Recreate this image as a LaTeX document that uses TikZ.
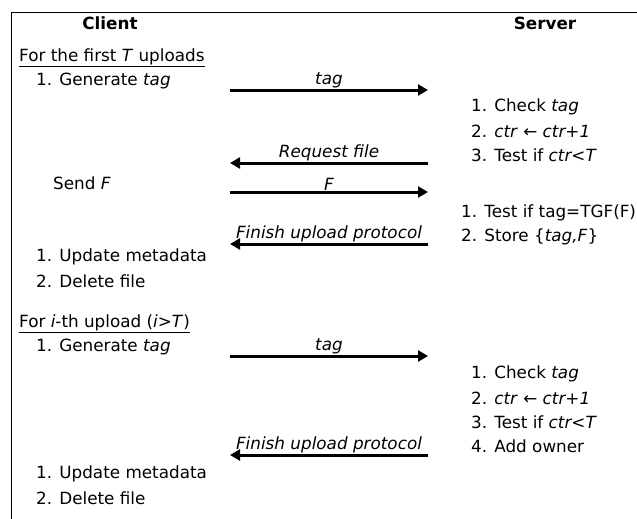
\documentclass[tikz,border=0pt]{standalone}
\usepackage{fontspec}
\setmainfont{DejaVu Sans}
\usetikzlibrary{arrows.meta}

\tikzset{
  txt/.style={anchor=west, inner sep=0pt},
  msg/.style={line width=3pt, -{Triangle[length=10pt,width=11pt]}},
  lbl/.style={midway, above, inner sep=0.5pt, font=\fontsize{16.8}{20}\selectfont\itshape}
}

\begin{document}
\begin{tikzpicture}[x=1pt, y=-1pt, font=\fontsize{16.8}{20}\selectfont]
    \useasboundingbox (0,0) rectangle (637,519);

    % Frame
    \draw[line width=0.8pt] (11,519) -- (11,12) -- (637,12);

    % Headings
    \node[font=\fontsize{16.8}{20}\selectfont\bfseries] (client) at (110,23) {Client};
    \node[font=\fontsize{16.8}{20}\selectfont\bfseries] (server) at (545,23) {Server};

    % First T uploads: client side
    \node[txt] (first) at (19,58) {\underline{For the first \textit{T} uploads}};
    \node[txt] (gen1) at (36,81) {1. Generate \textit{tag}};
    \node[txt] (send) at (53,183) {Send \textit{F}};
    \node[txt] (upd1) at (36,257) {1. Update metadata};
    \node[txt] (del1) at (36,281) {2. Delete file};

    % First T uploads: server side
    \foreach \y/\t [count=\i] in {107/Check \textit{tag}, 131/\textit{ctr} ← \textit{ctr+1}, 155/Test if \textit{ctr<T}} {
      \node[txt] (chkA\i) at (471,\y) {\i. \t};
    }
    \node[txt] (test) at (461,213) {1. Test if tag=TGF(F)};
    \node[txt] (store) at (461,237) {2. Store \{\textit{tag,F}\}};

    % Messages of the first T uploads
    \coordinate (cA1) at (230,90);  \coordinate (sA1) at (428,90);
    \coordinate (cA2) at (230,163); \coordinate (sA2) at (428,163);
    \coordinate (cA3) at (230,192); \coordinate (sA3) at (428,192);
    \coordinate (cA4) at (230,244); \coordinate (sA4) at (428,244);
    \draw[msg] (cA1) -- (sA1) node[lbl] {tag};
    \draw[msg] (sA2) -- (cA2) node[lbl] {Request file};
    \draw[msg] (cA3) -- (sA3) node[lbl] {F};
    \draw[msg] (sA4) -- (cA4) node[lbl] {Finish upload protocol};

    % i-th upload: client side
    \node[txt] (ith) at (19,324) {\underline{For \textit{i}-th upload (\textit{i>T})}};
    \node[txt] (gen2) at (36,347) {1. Generate \textit{tag}};
    \node[txt] (upd2) at (36,474) {1. Update metadata};
    \node[txt] (del2) at (36,498) {2. Delete file};

    % i-th upload: server side
    \foreach \y/\t [count=\i] in {374/Check \textit{tag}, 398/\textit{ctr} ← \textit{ctr+1}, 422/Test if \textit{ctr<T}, 446/Add owner} {
      \node[txt] (chkB\i) at (471,\y) {\i. \t};
    }

    % Messages of the i-th upload
    \coordinate (cB1) at (230,356); \coordinate (sB1) at (428,356);
    \coordinate (cB2) at (230,455); \coordinate (sB2) at (428,455);
    \draw[msg] (cB1) -- (sB1) node[lbl] {tag};
    \draw[msg] (sB2) -- (cB2) node[lbl] {Finish upload protocol};

\end{tikzpicture}
\end{document}
